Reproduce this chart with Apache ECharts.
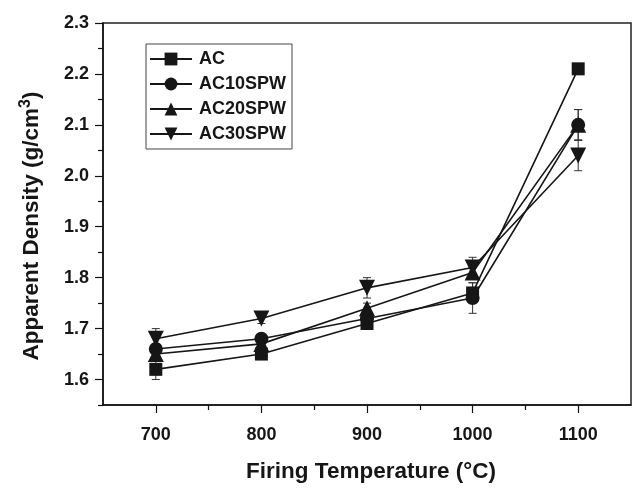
<!DOCTYPE html>
<html>
<head>
<meta charset="utf-8">
<script src="https://cdn.jsdelivr.net/npm/echarts@6/dist/echarts.min.js"></script>
<style>
  html, body { margin: 0; padding: 0; background: #fff; }
  #chart { width: 633px; height: 488px; }
</style>
</head>
<body>
<div id="chart"></div>
<script>
// firing temperature (°C)
var temps = [700, 800, 900, 1000, 1100];
var seriesNames = ['AC', 'AC10SPW', 'AC20SPW', 'AC30SPW'];
// apparent density (g/cm3)
var acVals    = [1.62, 1.65, 1.71, 1.77, 2.21];
var ac10Vals  = [1.66, 1.68, 1.72, 1.76, 2.10];
var ac20Vals  = [1.65, 1.67, 1.74, 1.81, 2.10];
var ac30Vals  = [1.68, 1.72, 1.78, 1.82, 2.04];
// error (+/-)
var acErr   = [0.02, 0.01, 0.01, 0.02, 0.01];
var ac10Err = [0.01, 0.01, 0.02, 0.03, 0.03];
var ac20Err = [0.01, 0.01, 0.01, 0.01, 0.03];
var ac30Err = [0.02, 0.01, 0.02, 0.02, 0.03];
// tick labels
var xMajor = [700, 800, 900, 1000, 1100];
var xMinor = [750, 850, 950, 1050];
var yMajor = [1.6, 1.7, 1.8, 1.9, 2.0, 2.1, 2.2, 2.3];
var yMinor = [1.55, 1.65, 1.75, 1.85, 1.95, 2.05, 2.15, 2.25];

var FONT = "'Liberation Sans', Arial, sans-serif";
var INK = '#161616';

var myChart = echarts.init(document.getElementById('chart'));

function pairs(vals) {
    return temps.map(function (t, i) { return [t, vals[i]]; });
}
function errPairs(vals, err) {
    return temps.map(function (t, i) { return [t, vals[i] - err[i], vals[i] + err[i]]; });
}

// vertical error bar with caps
function renderErr(params, api) {
    var lo = api.coord([api.value(0), api.value(1)]);
    var hi = api.coord([api.value(0), api.value(2)]);
    var w = 4;
    var st = { stroke: '#333', lineWidth: 1 };
    return {
        type: 'group',
        children: [
            { type: 'line', shape: { x1: lo[0], y1: lo[1], x2: hi[0], y2: hi[1] }, style: st },
            { type: 'line', shape: { x1: lo[0] - w, y1: lo[1], x2: lo[0] + w, y2: lo[1] }, style: st },
            { type: 'line', shape: { x1: hi[0] - w, y1: hi[1], x2: hi[0] + w, y2: hi[1] }, style: st }
        ]
    };
}

var symbols = ['rect', 'circle', 'triangle', 'triangle'];
var sizes = [13, 14, 16, 16];
var rots = [0, 0, 0, 180];
var valsList = [acVals, ac10Vals, ac20Vals, ac30Vals];
var errList = [acErr, ac10Err, ac20Err, ac30Err];

var series = [];
seriesNames.forEach(function (name, k) {
    series.push({
        name: name + '_err',
        type: 'custom',
        renderItem: renderErr,
        data: errPairs(valsList[k], errList[k]),
        z: 1,
        silent: true
    });
});
seriesNames.forEach(function (name, k) {
    series.push({
        name: name,
        type: 'line',
        data: pairs(valsList[k]),
        symbol: symbols[k],
        symbolSize: sizes[k],
        symbolRotate: rots[k],
        showAllSymbol: true,
        lineStyle: { color: INK, width: 1.6 },
        itemStyle: { color: INK, borderWidth: 0 },
        z: 3
    });
});

var option = {
    animation: false,
    backgroundColor: '#fff',
    grid: {
        left: 103, top: 23, right: 2, bottom: 78,
        show: true, borderColor: '#222', borderWidth: 1.5
    },
    legend: {
        data: seriesNames,
        orient: 'vertical',
        left: 146, top: 44,
        padding: [6, 6, 6, 3],
        itemWidth: 42, itemHeight: 16,
        itemGap: 7,
        borderColor: '#444', borderWidth: 1,
        textStyle: { fontFamily: FONT, fontWeight: 'bold', fontSize: 18, color: INK, padding: [0, 0, 0, 2] }
    },
    xAxis: [{
        type: 'value',
        min: 650, max: 1150,
        name: 'Firing Temperature (°C)',
        nameLocation: 'middle',
        nameGap: 55,
        nameTextStyle: { fontFamily: FONT, fontWeight: 'bold', fontSize: 22.5, color: INK, padding: [0, 0, 0, 8] },
        axisLine: { lineStyle: { color: '#111', width: 1.5 } },
        axisTick: { inside: false, length: 8, customValues: xMajor, lineStyle: { color: '#111', width: 1.2 } },
        axisLabel: {
            customValues: xMajor, margin: 21,
            fontFamily: FONT, fontWeight: 'bold', fontSize: 18, color: INK,
            formatter: function (v) { return String(v); }
        },
        splitLine: { show: false }
    }, {
        type: 'value',
        position: 'bottom',
        min: 650, max: 1150,
        axisLine: { show: false },
        axisTick: { length: 5, customValues: xMinor, lineStyle: { color: '#111', width: 1.2 } },
        axisLabel: { show: false },
        splitLine: { show: false }
    }],
    yAxis: [{
        type: 'value',
        min: 1.55, max: 2.3,
        name: '{a|Apparent Density (g/cm}{s|3}{a|)}',
        nameLocation: 'middle',
        nameGap: 57,
        nameTextStyle: {
            padding: [0, 24, 0, 0],
            rich: {
                a: { fontFamily: FONT, fontWeight: 'bold', fontSize: 22.5, color: INK },
                s: { fontFamily: FONT, fontWeight: 'bold', fontSize: 16, color: INK, verticalAlign: 'bottom', padding: [0, 0, 12, 0] }
            }
        },
        axisLine: { show: true, lineStyle: { color: '#111', width: 1.5 } },
        axisTick: { show: true, length: 8, customValues: yMajor, lineStyle: { color: '#111', width: 1.2 } },
        axisLabel: {
            customValues: yMajor, margin: 14,
            fontFamily: FONT, fontWeight: 'bold', fontSize: 18, color: INK,
            formatter: function (v) { return v.toFixed(1); }
        },
        splitLine: { show: false }
    }, {
        type: 'value',
        position: 'left',
        min: 1.55, max: 2.3,
        axisLine: { show: false },
        axisTick: { show: true, length: 5, customValues: yMinor, lineStyle: { color: '#111', width: 1.2 } },
        axisLabel: { show: false },
        splitLine: { show: false }
    }],
    series: series
};

myChart.setOption(option);
</script>
</body>
</html>
